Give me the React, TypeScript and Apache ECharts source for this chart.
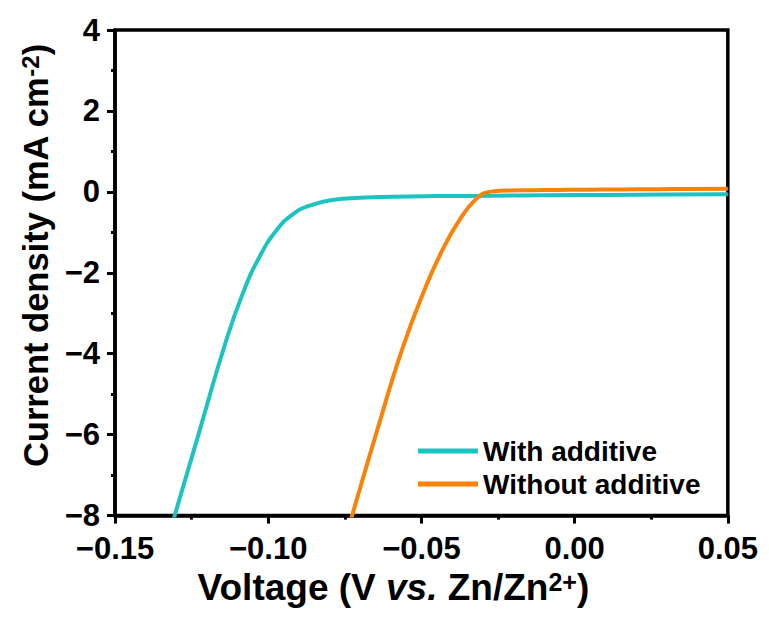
import React, { useEffect, useRef } from "react";
import * as echarts from "echarts";

const FONT = "'Liberation Sans', Arial, sans-serif";

const seriesNames = ["With additive", "Without additive"];
const seriesColors = ["#1DC3C0", "#F98209"];

const withVoltage = [-0.1318, -0.1305, -0.1222, -0.1142, -0.1082, -0.1028, -0.0973, -0.0919, -0.0865, -0.079, -0.07, -0.0594, -0.045, -0.0269, -0.01, 0.01, 0.03, 0.05];
const withCurrent = [-8.3, -7.99, -5.85, -3.79, -2.49, -1.6, -0.95, -0.55, -0.34, -0.2, -0.145, -0.12, -0.105, -0.095, -0.085, -0.075, -0.065, -0.06];

const withoutVoltage = [-0.0738, -0.0726, -0.0644, -0.0561, -0.0485, -0.0431, -0.0376, -0.0322, -0.0278, -0.022, -0.014, -0.006, 0.004, 0.015, 0.027, 0.038, 0.05];
const withoutCurrent = [-8.3, -7.99, -5.88, -3.85, -2.33, -1.43, -0.7, -0.18, 0.0, 0.035, 0.042, 0.048, 0.054, 0.06, 0.066, 0.071, 0.075];

const xMin = -0.15, xMax = 0.05, xStep = 0.05;
const yMin = -8, yMax = 4, yStep = 2;

const zip = (a: number[], b: number[]) => a.map((v, i) => [v, b[i]]);

const fmtX = (v: number) => {
  if (Math.abs(v) < 1e-9) return "0.00";
  return (v < 0 ? "\u2212" : "") + Math.abs(v).toFixed(2);
};
const fmtY = (v: number) => (v < 0 ? "\u2212" + Math.abs(v) : String(v));

export default function App() {
  const ref = useRef<HTMLDivElement>(null);
  useEffect(() => {
    if (!ref.current) return;
    const chart = echarts.init(ref.current, null, { renderer: "svg" });
    const axisCommon = {
      axisLine: { show: true, onZero: false, lineStyle: { color: "#000", width: 3.5 } },
      axisTick: { show: true, inside: false, length: 8, lineStyle: { color: "#000", width: 3 } },
      minorTick: { show: true, splitNumber: 2, length: 4, lineStyle: { color: "#000", width: 3 } },
      splitLine: { show: false },
    };
    chart.setOption({
      animation: false,
      backgroundColor: "#fff",
      grid: { left: 107, right: 32, top: 22, bottom: 88, show: true, borderColor: "#000", borderWidth: 3.5 },
      legend: {
        orient: "vertical",
        left: 410,
        top: 429,
        padding: 0,
        itemWidth: 60,
        itemHeight: 5,
        itemGap: 5,
        itemTextGap: 8,
        icon: "rect",
        data: seriesNames,
        textStyle: { color: "#000", fontFamily: FONT, fontWeight: "bold", fontSize: 28 },
      },
      xAxis: {
        type: "value",
        min: xMin,
        max: xMax,
        interval: xStep,
        ...axisCommon,
        axisLabel: { color: "#000", fontFamily: FONT, fontWeight: "bold", fontSize: 31, margin: 20, lineHeight: 26, formatter: fmtX },
        name: "{b|Voltage (V }{i|vs.}{b| Zn/Zn}{s|2+}{b|)}",
        nameLocation: "middle",
        nameGap: 52,
        nameTextStyle: {
          padding: [0, 56, 0, 0],
          rich: {
            b: { fontFamily: FONT, fontWeight: "bold", fontSize: 37, color: "#000" },
            i: { fontFamily: FONT, fontWeight: "bold", fontStyle: "italic", fontSize: 37, color: "#000" },
            s: { fontFamily: FONT, fontWeight: "bold", fontSize: 25, color: "#000", verticalAlign: "top" },
          },
        },
      },
      yAxis: {
        type: "value",
        min: yMin,
        max: yMax,
        interval: yStep,
        ...axisCommon,
        axisLabel: { color: "#000", fontFamily: FONT, fontWeight: "bold", fontSize: 31, margin: 15, lineHeight: 22, formatter: fmtY },
        name: "{b|Current density (mA cm}{s|-2}{b|)}",
        nameLocation: "middle",
        nameGap: 60,
        nameTextStyle: {
          padding: [0, 0, 0, 34],
          rich: {
            b: { fontFamily: FONT, fontWeight: "bold", fontSize: 34.5, color: "#000" },
            s: { fontFamily: FONT, fontWeight: "bold", fontSize: 24, color: "#000", verticalAlign: "top" },
          },
        },
      },
      series: [
        {
          name: seriesNames[0],
          type: "line",
          data: zip(withVoltage, withCurrent),
          showSymbol: false,
          smooth: 0.5,
          clip: true,
          lineStyle: { color: seriesColors[0], width: 4 },
          itemStyle: { color: seriesColors[0] },
          z: 3,
        },
        {
          name: seriesNames[1],
          type: "line",
          data: zip(withoutVoltage, withoutCurrent),
          showSymbol: false,
          smooth: 0.5,
          clip: true,
          lineStyle: { color: seriesColors[1], width: 4 },
          itemStyle: { color: seriesColors[1] },
          z: 4,
        },
      ],
    });
    return () => chart.dispose();
  }, []);
  return <div ref={ref} style={{ width: 753, height: 603 }} />;
}
